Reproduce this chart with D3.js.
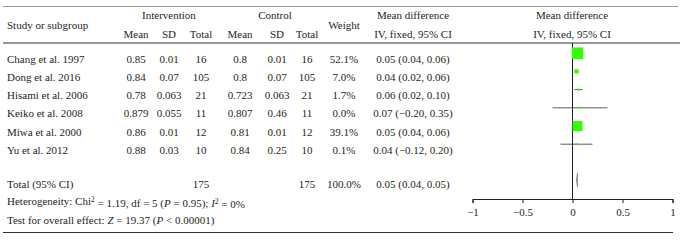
<!DOCTYPE html>
<html><head><meta charset="utf-8">
<script src="https://cdn.jsdelivr.net/npm/d3@7"></script>
<style>
html,body{margin:0;padding:0;background:#fff;}
svg text{font-family:"Liberation Serif",serif !important;font-size:11px;fill:#231f20;}
</style></head>
<body><svg id="c" width="681" height="240" font-family="Liberation Serif"></svg>
<script>
const studies = ["Chang et al. 1997","Dong et al. 2016","Hisami et al. 2006","Keiko et al. 2008","Miwa et al. 2000","Yu et al. 2012"];
const intMean = [0.85,0.84,0.78,0.879,0.86,0.88];
const intSD = [0.01,0.07,0.063,0.055,0.01,0.03];
const intTotal = [16,105,21,11,12,10];
const ctlMean = [0.8,0.8,0.723,0.807,0.81,0.84];
const ctlSD = [0.01,0.07,0.063,0.46,0.01,0.25];
const ctlTotal = [16,105,21,11,12,10];
const weights = [52.1,7.0,1.7,0.0,39.1,0.1];
const meanDiff = [0.05,0.04,0.06,0.07,0.05,0.04];
const ciLow = [0.04,0.02,0.02,-0.20,0.04,-0.12];
const ciHigh = [0.06,0.06,0.10,0.35,0.06,0.20];
const totalInt = 175, totalCtl = 175, totalWeight = 100.0;
const totalMD = 0.05, totalLow = 0.04, totalHigh = 0.05;
const axisTicks = [-1,-0.5,0,0.5,1];

const svg = d3.select("#c");
const ink = "#231f20";
const fmt2 = v => v.toFixed(2).replace("-", "\u2212");
const mdText = (m,l,h) => `${fmt2(m)} (${fmt2(l)}, ${fmt2(h)})`;

const x = d3.scaleLinear().domain([-1,1]).range([472.5,672.5]);
const rowY = d3.scaleLinear().domain([0,5]).range([59,150]);
const sz = d3.scaleSqrt().domain([0,52.1]).range([0,11.5]);

// rules
svg.append("line").attr("x1",3).attr("x2",678).attr("y1",6.5).attr("y2",6.5).attr("stroke","#9a9a9a").attr("stroke-width",1);
svg.append("line").attr("x1",3).attr("x2",680).attr("y1",43).attr("y2",43).attr("stroke","#333").attr("stroke-width",1);
svg.append("line").attr("x1",3).attr("x2",673).attr("y1",232.5).attr("y2",232.5).attr("stroke","#333").attr("stroke-width",1);

const cols = [136,169,201,240,277,307];
const wX = 344, mdX = 413;

function t(xp,yp,s,anchor){
  return svg.append("text").attr("x",xp).attr("y",yp).attr("dy","0.35em").attr("text-anchor",anchor||"middle").text(s);
}
// headers
t(7,25,"Study or subgroup","start");
t(169,15,"Intervention");
t(275,15,"Control");
["Mean","SD","Total","Mean","SD","Total"].forEach((h,i)=>t(cols[i],34,h));
t(wX,25,"Weight");
t(mdX,15,"Mean difference");
t(mdX,34,"IV, fixed, 95% CI");
t(572,15,"Mean difference");
t(572,34,"IV, fixed, 95% CI");

// rows
studies.forEach((s,i)=>{
  const y = rowY(i);
  t(7,y,s,"start");
  [intMean[i],intSD[i],intTotal[i],ctlMean[i],ctlSD[i],ctlTotal[i]].forEach((v,j)=>t(cols[j],y,String(v)));
  t(wX,y,weights[i].toFixed(1)+"%");
  t(mdX,y,mdText(meanDiff[i],ciLow[i],ciHigh[i]));
});

// total rows
t(7,184,"Total (95% CI)","start");
t(cols[2],184,String(totalInt));
t(cols[5],184,String(totalCtl));
t(wX,184,totalWeight.toFixed(1)+"%");
t(mdX,184,mdText(totalMD,totalLow,totalHigh));

const het = svg.append("text").attr("x",7).attr("y",201.5).attr("dy","0.35em");
het.append("tspan").text("Heterogeneity: Chi");
het.append("tspan").attr("dy","-0.4em").attr("font-size","7.5px").text("2");
het.append("tspan").attr("dy","0.4em").text(" = 1.19, df = 5 (");
het.append("tspan").attr("font-style","italic").text("P");
het.append("tspan").text(" = 0.95); ");
het.append("tspan").attr("font-style","italic").text("I");
het.append("tspan").attr("dy","-0.4em").attr("font-size","7.5px").text("2");
het.append("tspan").attr("dy","0.4em").text(" = 0%");

const tst = svg.append("text").attr("x",7).attr("y",220.5).attr("dy","0.35em");
tst.append("tspan").text("Test for overall effect:  ");
tst.append("tspan").attr("font-style","italic").text("Z");
tst.append("tspan").text(" = 19.37 (");
tst.append("tspan").attr("font-style","italic").text("P");
tst.append("tspan").text(" < 0.00001)");

// zero line
svg.append("line").attr("x1",x(0)).attr("x2",x(0)).attr("y1",43).attr("y2",199).attr("stroke",ink).attr("stroke-width",1);

// CIs and markers
const g = svg.append("g");
studies.forEach((s,i)=>{
  const y = rowY(i) - 5.8;
  g.append("line").attr("x1",x(ciLow[i])).attr("x2",x(ciHigh[i])).attr("y1",y).attr("y2",y).attr("stroke","#333").attr("stroke-width",0.8);
  const d = Math.max(2, sz(weights[i]));
  g.append("rect").attr("x",x(meanDiff[i])-d/2).attr("y",y-d/2).attr("width",d).attr("height",d).attr("fill","#33ff00");
});

// diamond
const dy = 180;
svg.append("path")
  .attr("d",`M${x(totalLow)},${dy}L${x(totalMD)},${dy-7}L${x(totalHigh)},${dy}L${x(totalMD)},${dy+7}Z`)
  .attr("fill","#888").attr("stroke","#888").attr("stroke-width",0.8);

// axis
const ax = svg.append("g").attr("transform","translate(0,199)")
  .call(d3.axisBottom(x).tickValues(axisTicks).tickSize(4).tickFormat(v => String(v).replace("-","\u2212")));
ax.attr("font-family",null).attr("font-size",null);
ax.select(".domain").attr("stroke",ink);
ax.selectAll(".tick line").attr("stroke",ink);
ax.selectAll(".tick text").attr("fill",ink).attr("y",9);
</script></body></html>
